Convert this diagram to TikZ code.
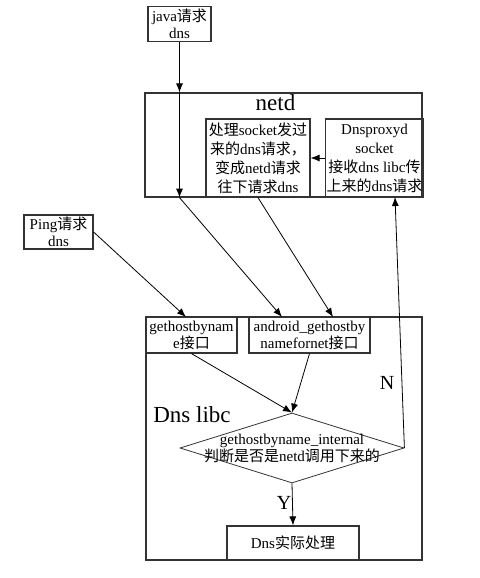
\documentclass[tikz,border=0pt]{standalone}
\usepackage{fontspec}
\setmainfont{Liberation Serif}
\newfontfamily\cjk{Noto Sans CJK SC}
\newcommand{\zh}[1]{{\cjk #1}}
\usetikzlibrary{shapes.geometric,arrows.meta}

\tikzset{
		box/.style={draw=black!80, line width=1.2pt, inner sep=1pt, align=center, font=\fontsize{15}{17}\selectfont},
		tallbox/.style={box, font=\fontsize{15}{19}\selectfont},
		big/.style={font=\fontsize{23}{26}\selectfont},
		arrow/.style={-{Latex[length=9pt,width=7pt]}, line width=0.8pt}
	}

\begin{document}
\begin{tikzpicture}[x=1pt,y=-1pt]
\useasboundingbox (0,0) rectangle (479,578);

% outer boxes
\node (netd) at (283.5,145) [box,minimum width=277pt,minimum height=104pt,label={[anchor=north,big,yshift=1pt,xshift=-8pt]north:netd}] {};
\node (libc) at (284,438.5) [box,minimum width=276pt,minimum height=243pt] {};

\node (java) at (179.5,24) [box,minimum width=63pt,minimum height=35pt] {java\zh{请求}\\dns};
\node (ping) at (58.5,232) [box,minimum width=69pt,minimum height=34pt] {Ping\zh{请求}\\dns};

\node (proc) at (258,158) [tallbox,minimum width=104pt,minimum height=78pt] {\zh{处理}socket\zh{发过}\\\zh{来的}dns\zh{请求，}\\\zh{变成}netd\zh{请求}\\\zh{往下请求}dns};
\node (proxy) at (374.5,158) [tallbox,minimum width=95pt,minimum height=78pt] {Dnsproxyd\\socket\\\zh{接收}dns libc\zh{传}\\\zh{上来的}dns\zh{请求}};

\node (gethost) at (191.5,335) [box,minimum width=91pt,minimum height=36pt] {gethostbynam\\e\zh{接口}};
\node (android) at (309.5,335) [box,minimum width=121pt,minimum height=36pt] {android\_gethostby\\namefornet\zh{接口}};

\node (check) at (292,448) [diamond,draw=black!80,line width=0.8pt,minimum width=224pt,minimum height=70pt,
	label={[align=center,inner sep=0pt,font=\fontsize{15}{17}\selectfont]center:gethostbyname\_internal\\\zh{判断是否是}netd\zh{调用下来的}}] {};
\node (real) at (293,543) [box,minimum width=132pt,minimum height=34pt] {Dns\zh{实际处理}};

\node (lib) at (192,415) [big] {Dns libc};
\node (no) at (387,383) [font=\fontsize{20}{22}\selectfont] {N};
\node (yes) at (284,503) [font=\fontsize{20}{22}\selectfont] {Y};

\coordinate (jtop) at (java.south |- netd.north);
\coordinate (jbot) at (java.south |- netd.south);
\coordinate (atop1) at (282,317);
\coordinate (atop2) at (333,317);
\coordinate (gtop) at (186,317);
\coordinate (pbot) at (395,197);

\draw [arrow]  (java.south) to (jtop);
\draw [arrow]  (jtop) to (jbot);
\draw [arrow]  (jbot) to (atop1);
\draw [arrow]  (proc.south) to (atop2);
\draw [arrow]  (ping.east) to (gtop);
\draw [arrow]  (proxy.west) to (proc.east);
\draw [arrow]  (gethost.south) to (check.north);
\draw [arrow]  (android.south) to (check.north);
\draw [arrow]  (check.east) to (pbot);
\draw [arrow]  (check.south) to (real.north);

\end{tikzpicture}
\end{document}
